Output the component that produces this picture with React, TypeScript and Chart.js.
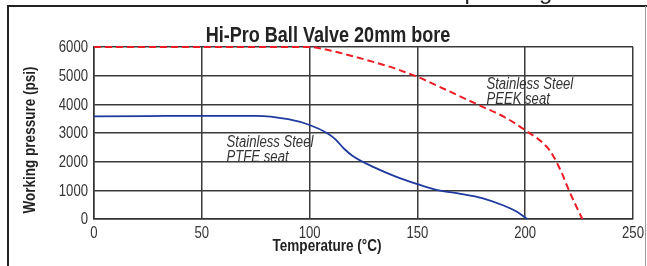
import React, { useEffect, useRef } from "react";
import { Chart, registerables } from "chart.js";

Chart.register(...registerables);

const FONT = "'Liberation Sans', Arial, sans-serif";
const SQUEEZE = 0.82;

const titleText = "Hi-Pro Ball Valve 20mm bore";
const xTitle = "Temperature (°C)";
const yTitle = "Working pressure (psi)";

const xTicks = [0, 50, 100, 150, 200, 250];
const yTicks = [0, 1000, 2000, 3000, 4000, 5000, 6000];

const ptfeTemp = [0, 25, 50, 75, 90, 100, 108, 112, 116, 120, 130, 140, 150, 160, 170, 180, 190, 196, 201];
const ptfePsi = [3580, 3590, 3600, 3600, 3480, 3280, 3000, 2780, 2450, 2200, 1800, 1480, 1220, 1000, 880, 730, 470, 260, 0];

const peekTemp = [0, 50, 100, 110, 120, 130, 140, 150, 160, 170, 180, 190, 200, 210, 213, 217, 220, 223, 226.5];
const peekPsi = [6000, 6000, 6000, 5870, 5680, 5470, 5240, 4960, 4620, 4270, 3920, 3570, 3100, 2520, 2200, 1600, 1050, 550, 0];

const ptfeLabel = ["Stainless Steel", "PTFE seat"];
const ptfeLabelAt = { x: 61.5, y: 2950 };
const peekLabel = ["Stainless Steel", "PEEK seat"];
const peekLabelAt = { x: 182, y: 4980 };

function squeezedText(ctx: CanvasRenderingContext2D, text: string, x: number, y: number, rot = 0) {
  ctx.save();
  ctx.translate(x, y);
  if (rot) ctx.rotate(rot);
  ctx.scale(SQUEEZE, 1);
  ctx.fillText(text, 0, 0);
  ctx.restore();
}

const textPlugin = {
  id: "texts",
  afterDraw(chart: any) {
    const { ctx, scales } = chart;
    const xs = scales.x;
    const ys = scales.y;
    ctx.save();
    ctx.fillStyle = "#333";
    ctx.font = `16px ${FONT}`;
    ctx.textBaseline = "middle";
    ctx.textAlign = "right";
    ys.ticks.forEach((t: any) => {
      squeezedText(ctx, String(t.value), ys.right - 6, ys.getPixelForValue(t.value) + 1);
    });
    ctx.textAlign = "center";
    ctx.textBaseline = "top";
    xs.ticks.forEach((t: any) => {
      squeezedText(ctx, String(t.value), xs.getPixelForValue(t.value), xs.top + 7);
    });
    ctx.fillStyle = "#222";
    ctx.textBaseline = "middle";
    ctx.font = `bold 22px ${FONT}`;
    squeezedText(ctx, titleText, 328, 36);
    ctx.font = `bold 16.5px ${FONT}`;
    squeezedText(ctx, xTitle, 327, 246);
    squeezedText(ctx, yTitle, 30, 140, -Math.PI / 2);
    ctx.font = `italic 16px ${FONT}`;
    ctx.fillStyle = "#333";
    ctx.textAlign = "left";
    ctx.textBaseline = "top";
    const draw = (lines: string[], at: { x: number; y: number }) => {
      const px = xs.getPixelForValue(at.x);
      const py = ys.getPixelForValue(at.y);
      lines.forEach((l, i) => squeezedText(ctx, l, px, py + i * 15));
    };
    draw(ptfeLabel, ptfeLabelAt);
    draw(peekLabel, peekLabelAt);
    ctx.restore();
  },
};

export default function App() {
  const ref = useRef<HTMLCanvasElement>(null);
  useEffect(() => {
    if (!ref.current) return;
    const chart = new Chart(ref.current, {
      type: "line",
      data: {
        datasets: [
          {
            label: "PTFE",
            data: ptfeTemp.map((t, i) => ({ x: t, y: ptfePsi[i] })),
            borderColor: "#1e3a9e",
            borderWidth: 1.8,
            pointRadius: 0,
            cubicInterpolationMode: "monotone",
            fill: false,
            clip: false,
          },
          {
            label: "PEEK",
            data: peekTemp.map((t, i) => ({ x: t, y: peekPsi[i] })),
            borderColor: "#ec1c24",
            borderWidth: 2,
            borderDash: [7, 4],
            pointRadius: 0,
            cubicInterpolationMode: "monotone",
            fill: false,
            clip: false,
          },
        ],
      },
      options: {
        animation: false,
        responsive: false,
        devicePixelRatio: 1,
        layout: { padding: { top: 47, right: 14, bottom: 0, left: 0 } },
        plugins: { legend: { display: false }, title: { display: false }, tooltip: { enabled: false } },
        scales: {
          x: {
            type: "linear",
            min: 0,
            max: 250,
            afterBuildTicks: (s: any) => { s.ticks = xTicks.map((v) => ({ value: v })); },
            ticks: { display: false },
            grid: { color: "#3a3a3a", lineWidth: 1.5, drawTicks: false },
            border: { color: "#333", width: 1.5 },
            afterFit: (s: any) => { s.height = 47; },
          },
          y: {
            type: "linear",
            min: 0,
            max: 6000,
            afterBuildTicks: (s: any) => { s.ticks = yTicks.map((v) => ({ value: v })); },
            ticks: { display: false },
            grid: { color: "#3a3a3a", lineWidth: 1.5, drawTicks: false },
            border: { color: "#333", width: 1.5 },
            afterFit: (s: any) => { s.width = 94; },
          },
        },
      },
      plugins: [textPlugin],
    });
    return () => chart.destroy();
  }, []);
  const frag: React.CSSProperties = {
    position: "absolute",
    top: -21.3,
    fontFamily: FONT,
    fontSize: 24,
    lineHeight: "24px",
    color: "#222",
    whiteSpace: "pre",
  };
  return (
    <div style={{ position: "absolute", left: 0, top: 0, width: 647, height: 266, background: "#fff", overflow: "hidden" }}>
      <canvas ref={ref} width={647} height={266} style={{ display: "block" }} />
      <div style={{ position: "absolute", left: 0, top: 0, width: 647, height: 5, overflow: "hidden" }}>
        <span style={{ ...frag, left: 464.5 }}>p</span>
        <span style={{ ...frag, left: 539 }}>g</span>
      </div>
      <div style={{ position: "absolute", left: 7, top: 5, width: 2, height: 261, background: "#222" }} />
      <div style={{ position: "absolute", left: 7, top: 5, width: 640, height: 2, background: "#222" }} />
      <div style={{ position: "absolute", left: 645, top: 6, width: 1, height: 260, background: "#999" }} />
    </div>
  );
}
